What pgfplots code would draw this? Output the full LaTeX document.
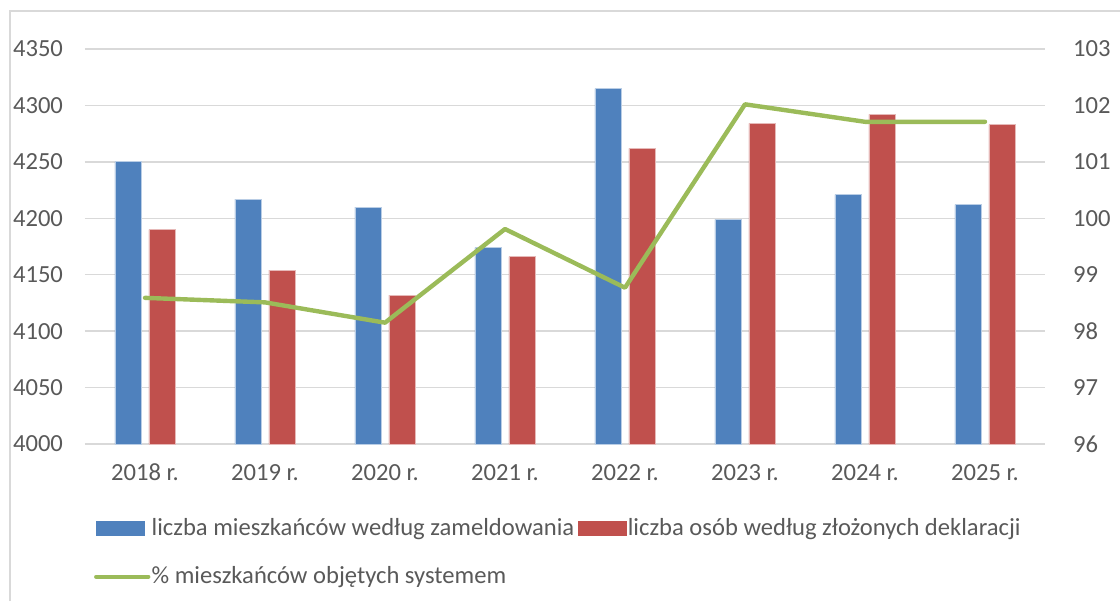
\documentclass[border=0pt]{standalone}
\usepackage{pgfplots}
\pgfplotsset{compat=1.18}
\usepackage{fontspec}
\setmainfont{Carlito}
\definecolor{cblue}{HTML}{4F81BD}
\definecolor{cred}{HTML}{C0504D}
\definecolor{cgreen}{HTML}{9BBB59}
\definecolor{cgrid}{HTML}{D9D9D9}
\definecolor{ctext}{HTML}{595959}
\begin{document}
\begin{tikzpicture}[font=\fontsize{12.3}{14}\selectfont]
\useasboundingbox (0,0) rectangle (560pt,300.5pt);
\draw[cgrid, line width=0.75pt] (5pt,0) -- (5pt,295pt) -- (560pt,295pt);
\pgfplotsset{
  base/.style={
    at={(42.5pt,78.5pt)}, anchor=south west,
    scale only axis, width=480pt, height=197.5pt,
    xmin=-0.5, xmax=7.5,
    axis line style={draw=none},
    major tick length=0pt,
    tick style={draw=none},
    ticklabel style={color=ctext, font=\fontsize{12.3}{14}\selectfont},
    /pgf/number format/assume math mode=true,
    /pgf/number format/1000 sep={},
  }
}
\begin{axis}[base,
  ymin=4000, ymax=4350, ytick={4000,4050,...,4350},
  ymajorgrids, grid style={cgrid, line width=0.75pt},
  xtick={0,...,7},
  xticklabels={2018 r.,2019 r.,2020 r.,2021 r.,2022 r.,2023 r.,2024 r.,2025 r.},
  xticklabel style={yshift=-6.5pt},
  yticklabel style={xshift=-7.5pt},
  axis y line*=left, axis x line*=bottom,
]
\addplot[ybar, bar width=13pt, bar shift=-8.5pt, fill=cblue, draw=white!60!cblue, line width=0.4pt]
  coordinates {(0,4250) (1,4217) (2,4210) (3,4174) (4,4315) (5,4199) (6,4221) (7,4212)};
\addplot[ybar, bar width=13pt, bar shift=8.5pt, fill=cred, draw=white!60!cred, line width=0.4pt]
  coordinates {(0,4190) (1,4154) (2,4132) (3,4166) (4,4262) (5,4284) (6,4292) (7,4283)};
\end{axis}
\begin{axis}[base,
  ymin=96, ymax=103, ytick={96,...,103},
  xtick=\empty,
  axis y line*=right, axis x line=none,
  yticklabel style={xshift=10.5pt},
  legend columns=2,
  legend style={draw=none, fill=none, inner sep=0pt, at={(0.009,-0.184)}, anchor=north west,
    font=\fontsize{12.3}{14}\selectfont, text=ctext,
    nodes={inner sep=0.6pt},
    cells={anchor=west},
    /tikz/every even column/.append style={column sep=1.2pt},
    row sep=13pt},
]
\addlegendimage{legend image code/.code={\fill[cblue] (0pt,-3.5pt) rectangle (24pt,3.5pt);}}
\addlegendentry{liczba mieszkańców według zameldowania}
\addlegendimage{legend image code/.code={\fill[cred] (0pt,-3.5pt) rectangle (24pt,3.5pt);}}
\addlegendentry{liczba osób według złożonych deklaracji}
\addplot[cgreen, line width=2.2pt, line cap=round, line join=round,
  legend image code/.code={\draw[cgreen, line width=2.2pt, line cap=round] (0pt,0pt) -- (26pt,0pt);}]
  coordinates {(0,98.59) (1,98.51) (2,98.15) (3,99.81) (4,98.77) (5,102.02) (6,101.71) (7,101.71)};
\addlegendentry{\% mieszkańców objętych systemem}
\end{axis}
\end{tikzpicture}
\end{document}
